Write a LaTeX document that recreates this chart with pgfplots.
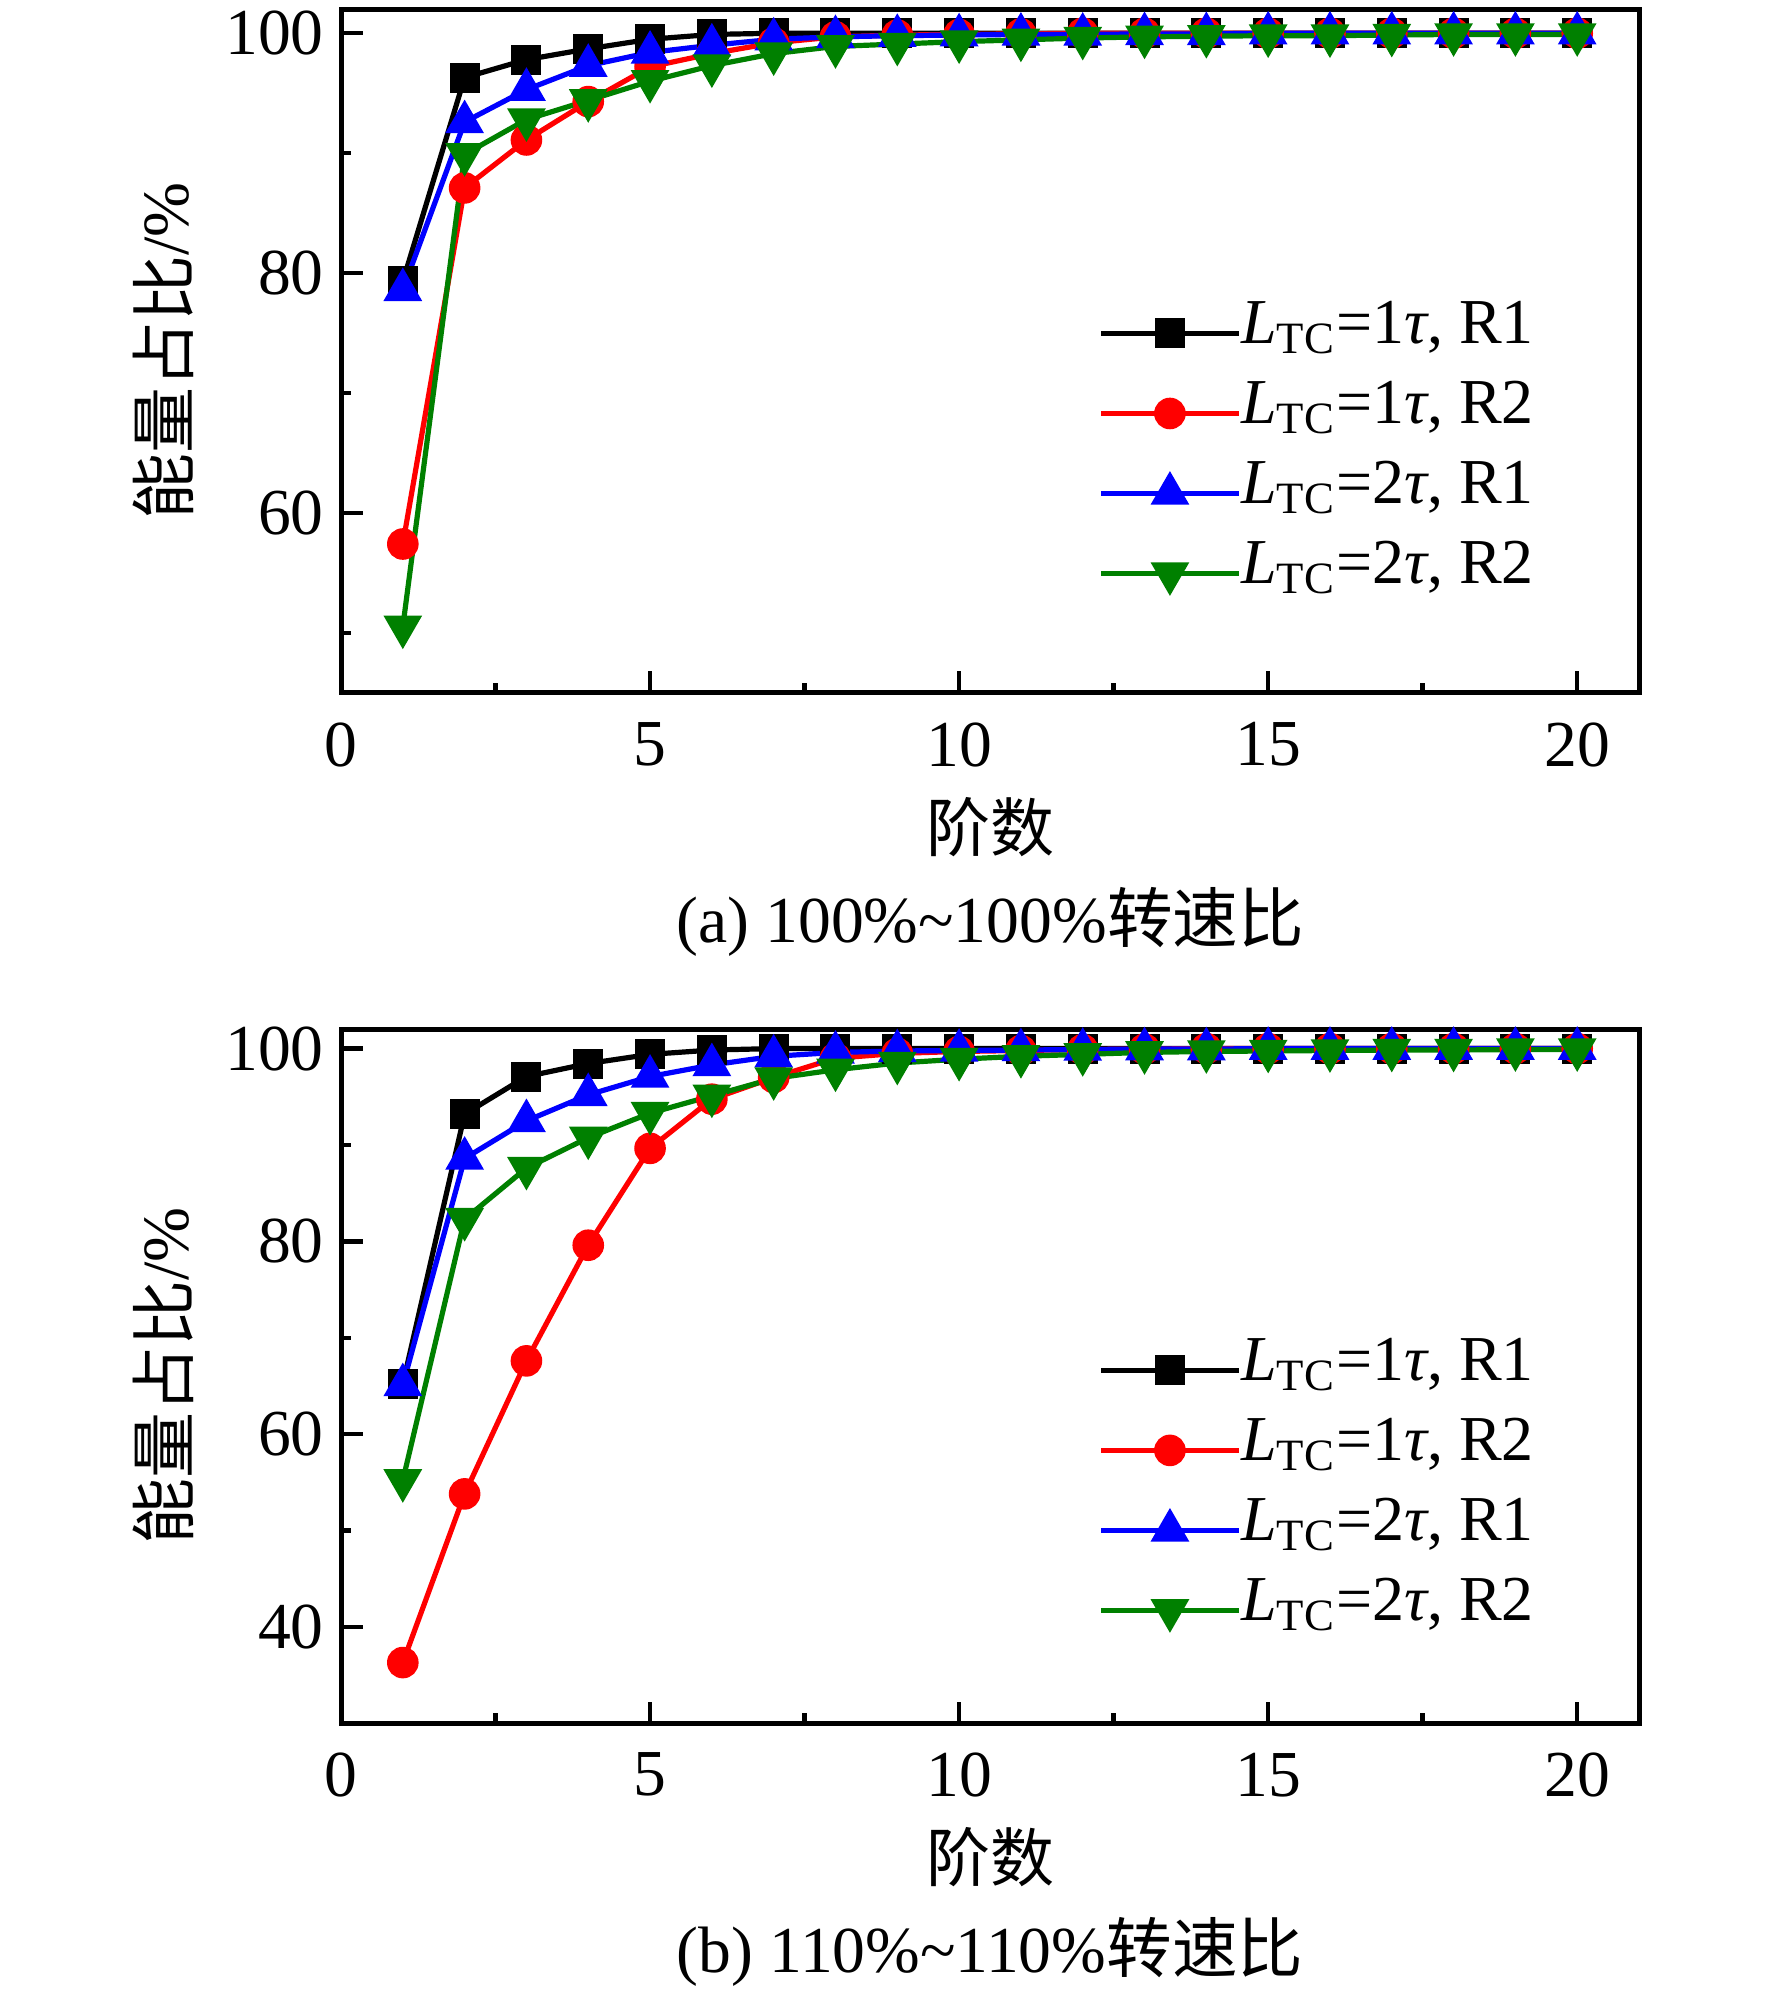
\documentclass[border=0pt]{standalone}
\usepackage{fontspec}
\setmainfont{Liberation Serif}
\newfontfamily\cjk{Noto Sans CJK SC}
\usepackage{pgfplots}
\pgfplotsset{compat=1.18}
\usepackage{pgfplotstable}

\definecolor{cgreen}{RGB}{0,128,0}
\definecolor{cred}{RGB}{255,0,0}
\definecolor{cblue}{RGB}{0,0,255}

% panel (a): 100%~100%
\pgfplotstableread{
x  k1r1  k1r2  k2r1  k2r2
1  79.3  57.4  78.6  50.5
2  96.3  87.1  92.6  89.9
3  97.8  91.1  95.3  92.8
4  98.7  94.3  97.3  94.4
5  99.5  97.2  98.4  96.0
6  99.9  98.3  99.0  97.3
7  100   99.2  99.5  98.3
8  100   99.7  99.7  98.9
9  100   99.85 99.8  99.1
10 100   99.9  99.85 99.3
11 100   99.95 99.9  99.45
12 100   100   99.9  99.6
13 100   100   99.95 99.7
14 100   100   99.95 99.75
15 100   100   100   99.8
16 100   100   100   99.8
17 100   100   100   99.85
18 100   100   100   99.9
19 100   100   100   99.9
20 100   100   100   99.9
}\tabA

% panel (b): 110%~110%
\pgfplotstableread{
x  k1r1  k1r2  k2r1  k2r2
1  65.2  36.3  65.1  55.2
2  93.2  53.8  88.6  82.3
3  97.1  67.6  92.5  87.6
4  98.45 79.6  95.2  90.75
5  99.4  89.65 97.1  93.3
6  99.85 94.75 98.3  95.1
7  100   97.0  99.2  96.9
8  100   99.0  99.6  97.8
9  100   99.5  99.75 98.5
10 100   99.7  99.8  98.9
11 100   99.8  99.85 99.2
12 100   99.9  99.9  99.4
13 100   99.95 99.95 99.6
14 100   100   99.95 99.7
15 100   100   100   99.75
16 100   100   100   99.8
17 100   100   100   99.85
18 100   100   100   99.85
19 100   100   100   99.9
20 100   100   100   99.9
}\tabB

\pgfplotsset{
  panel/.style={
    scale only axis,
    clip=false,
    width=324.5pt,
    xmin=0, xmax=21,
    xtick={0,5,10,15,20},
    minor xtick={2.5,7.5,12.5,17.5},
    minor ytick={50,70,90},
    tick align=inside,
    tick pos=left,
    major tick length=5.4pt,
    minor tick length=2.5pt,
    every tick/.style={line width=1.1pt, black},
    axis line style={line width=1.25pt},
    /pgf/number format/assume math mode=true,
    ticklabel style={font=\fontsize{16.4}{19}\selectfont},
    xticklabel style={yshift=-3.9pt},
    yticklabel style={xshift=-0.8pt},
    every axis x label/.style={at={(axis description cs:0.5,0)}, anchor=center, yshift=-33.5pt, font=\fontsize{16}{19}\selectfont},
    every axis y label/.style={at={(axis description cs:0,0.5)}, rotate=90, anchor=center, xshift=0pt, yshift=44.5pt, font=\fontsize{16.5}{19}\selectfont},
    xlabel={{\cjk 阶数}},
    ylabel={{\cjk 能量占比}/\%},
    legend cell align=left,
    legend image code/.code={\draw[#1, mark repeat=2, mark phase=2] plot coordinates {(0pt,0pt) (17.2pt,0pt) (34.4pt,0pt)};},
    legend style={draw=none, fill=none, inner sep=0pt, row sep=0pt, column sep=0pt,
      font=\fontsize{16}{19}\selectfont,
      nodes={inner sep=0pt, text height=12.5pt, text depth=7.5pt}},
    s1/.style={black, line width=1.3pt, mark=square*, mark size=3.1pt, mark options={solid, fill=black}},
    s2/.style={cred, line width=1.3pt, mark=*, mark size=3.3pt, mark options={solid, fill=cred}},
    s3/.style={cblue, line width=1.3pt, mark=triangle*, mark size=4.3pt, mark options={solid, fill=cblue}},
    s4/.style={cgreen, line width=1.3pt, mark=triangle*, mark size=4.3pt, mark options={solid, fill=cgreen, rotate=180}},
  }
}

\begin{document}
\begin{tikzpicture}
\useasboundingbox (0,0) rectangle (443pt,499.25pt);

\begin{axis}[panel,
  at={(85.25pt,496.92pt)}, anchor=north west,
  height=170.85pt,
  ymin=45, ymax=102,
  ytick={60,80,100},
  legend style={at={(axis description cs:0.583,0.350)}, anchor=west},
]
\addplot[s1] table[x=x, y=k1r1] {\tabA};
\addlegendentry{\textit{L}\textsubscript{TC}=1\textit{τ}, R1}
\addplot[s2] table[x=x, y=k1r2] {\tabA};
\addlegendentry{\textit{L}\textsubscript{TC}=1\textit{τ}, R2}
\addplot[s3] table[x=x, y=k2r1] {\tabA};
\addlegendentry{\textit{L}\textsubscript{TC}=2\textit{τ}, R1}
\addplot[s4] table[x=x, y=k2r2] {\tabA};
\addlegendentry{\textit{L}\textsubscript{TC}=2\textit{τ}, R2}
\node[font=\fontsize{16.4}{19}\selectfont, yshift=-57.2pt] at (axis description cs:0.5,0) {(a) 100\%\textasciitilde 100\%{\cjk 转速比}};
\end{axis}

\begin{axis}[panel,
  at={(85.25pt,241.92pt)}, anchor=north west,
  height=173.5pt,
  ymin=30, ymax=102,
  ytick={40,60,80,100},
  legend style={at={(axis description cs:0.583,0.3356)}, anchor=west},
]
\addplot[s1] table[x=x, y=k1r1] {\tabB};
\addlegendentry{\textit{L}\textsubscript{TC}=1\textit{τ}, R1}
\addplot[s2] table[x=x, y=k1r2] {\tabB};
\addlegendentry{\textit{L}\textsubscript{TC}=1\textit{τ}, R2}
\addplot[s3] table[x=x, y=k2r1] {\tabB};
\addlegendentry{\textit{L}\textsubscript{TC}=2\textit{τ}, R1}
\addplot[s4] table[x=x, y=k2r2] {\tabB};
\addlegendentry{\textit{L}\textsubscript{TC}=2\textit{τ}, R2}
\node[font=\fontsize{16.4}{19}\selectfont, yshift=-57.2pt] at (axis description cs:0.5,0) {(b) 110\%\textasciitilde 110\%{\cjk 转速比}};
\end{axis}
\end{tikzpicture}
\end{document}
